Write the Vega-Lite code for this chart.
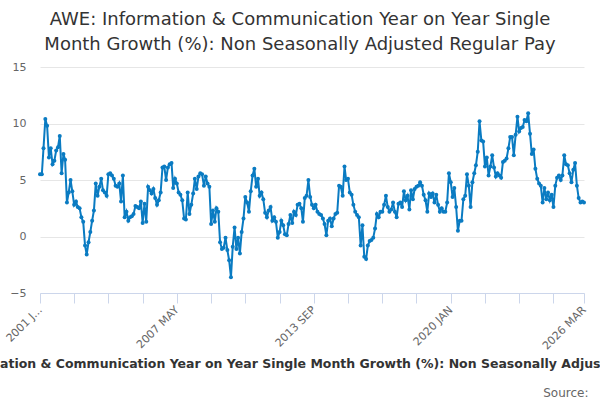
{
  "$schema": "https://vega.github.io/schema/vega-lite/v6.json",
  "autosize": "none",
  "width": 544,
  "height": 226,
  "padding": {"left": 40, "top": 67, "right": 16, "bottom": 107},
  "title": {
    "text": ["AWE: Information & Communication Year on Year Single", "Month Growth (%): Non Seasonally Adjusted Regular Pay"],
    "font": "DejaVu Sans",
    "fontSize": 18,
    "fontWeight": "normal",
    "color": "#333333",
    "anchor": "middle",
    "dx": -12,
    "offset": 7,
    "lineHeight": 25
  },
  "data": {
    "format": {"parse": {"month": "utc:'%Y-%m'"}},
    "values": [
      {"month": "2001-01", "value": 5.5}, {"month": "2001-02", "value": 5.5}, {"month": "2001-03", "value": 7.8}, {"month": "2001-04", "value": 10.4},
      {"month": "2001-05", "value": 9.8}, {"month": "2001-06", "value": 7.0}, {"month": "2001-07", "value": 7.8}, {"month": "2001-08", "value": 6.4},
      {"month": "2001-09", "value": 6.7}, {"month": "2001-10", "value": 7.6}, {"month": "2001-11", "value": 7.9}, {"month": "2001-12", "value": 8.9},
      {"month": "2002-01", "value": 5.6}, {"month": "2002-02", "value": 7.3}, {"month": "2002-03", "value": 6.8}, {"month": "2002-04", "value": 3.0},
      {"month": "2002-05", "value": 3.9}, {"month": "2002-06", "value": 5.0}, {"month": "2002-07", "value": 4.0}, {"month": "2002-08", "value": 2.8},
      {"month": "2002-09", "value": 3.1}, {"month": "2002-10", "value": 2.6}, {"month": "2002-11", "value": 2.5}, {"month": "2002-12", "value": 1.7},
      {"month": "2003-01", "value": 1.3}, {"month": "2003-02", "value": -0.8}, {"month": "2003-03", "value": -1.6}, {"month": "2003-04", "value": -0.5},
      {"month": "2003-05", "value": 0.4}, {"month": "2003-06", "value": 1.4}, {"month": "2003-07", "value": 2.3}, {"month": "2003-08", "value": 4.7},
      {"month": "2003-09", "value": 3.6}, {"month": "2003-10", "value": 4.4}, {"month": "2003-11", "value": 5.1}, {"month": "2003-12", "value": 4.1},
      {"month": "2004-01", "value": 3.9}, {"month": "2004-02", "value": 3.6}, {"month": "2004-03", "value": 5.5}, {"month": "2004-04", "value": 5.6},
      {"month": "2004-05", "value": 5.4}, {"month": "2004-06", "value": 5.1}, {"month": "2004-07", "value": 4.5}, {"month": "2004-08", "value": 4.4},
      {"month": "2004-09", "value": 4.7}, {"month": "2004-10", "value": 3.1}, {"month": "2004-11", "value": 5.4}, {"month": "2004-12", "value": 1.7},
      {"month": "2005-01", "value": 2.2}, {"month": "2005-02", "value": 1.4}, {"month": "2005-03", "value": 1.7}, {"month": "2005-04", "value": 1.8},
      {"month": "2005-05", "value": 2.0}, {"month": "2005-06", "value": 2.7}, {"month": "2005-07", "value": 2.6}, {"month": "2005-08", "value": 2.5},
      {"month": "2005-09", "value": 3.1}, {"month": "2005-10", "value": 1.2}, {"month": "2005-11", "value": 2.9}, {"month": "2005-12", "value": 1.3},
      {"month": "2006-01", "value": 4.4}, {"month": "2006-02", "value": 4.1}, {"month": "2006-03", "value": 3.8}, {"month": "2006-04", "value": 4.2},
      {"month": "2006-05", "value": 3.4}, {"month": "2006-06", "value": 2.8}, {"month": "2006-07", "value": 3.2}, {"month": "2006-08", "value": 3.9},
      {"month": "2006-09", "value": 6.1}, {"month": "2006-10", "value": 6.2}, {"month": "2006-11", "value": 5.0}, {"month": "2006-12", "value": 6.1},
      {"month": "2007-01", "value": 6.4}, {"month": "2007-02", "value": 6.5}, {"month": "2007-03", "value": 4.3}, {"month": "2007-04", "value": 5.1},
      {"month": "2007-05", "value": 4.7}, {"month": "2007-06", "value": 3.9}, {"month": "2007-07", "value": 3.7}, {"month": "2007-08", "value": 3.2},
      {"month": "2007-09", "value": 1.6}, {"month": "2007-10", "value": 1.5}, {"month": "2007-11", "value": 3.9}, {"month": "2007-12", "value": 2.0},
      {"month": "2008-01", "value": 2.8}, {"month": "2008-02", "value": 3.8}, {"month": "2008-03", "value": 5.1}, {"month": "2008-04", "value": 4.2},
      {"month": "2008-05", "value": 5.3}, {"month": "2008-06", "value": 5.6}, {"month": "2008-07", "value": 5.5}, {"month": "2008-08", "value": 4.5},
      {"month": "2008-09", "value": 5.3}, {"month": "2008-10", "value": 4.7}, {"month": "2008-11", "value": 4.4}, {"month": "2008-12", "value": 1.1},
      {"month": "2009-01", "value": 2.3}, {"month": "2009-02", "value": 1.3}, {"month": "2009-03", "value": 2.5}, {"month": "2009-04", "value": 2.2},
      {"month": "2009-05", "value": -0.5}, {"month": "2009-06", "value": -1.1}, {"month": "2009-07", "value": -1.0}, {"month": "2009-08", "value": -0.1},
      {"month": "2009-09", "value": -1.2}, {"month": "2009-10", "value": -2.1}, {"month": "2009-11", "value": -3.6}, {"month": "2009-12", "value": -0.9},
      {"month": "2010-01", "value": 0.8}, {"month": "2010-02", "value": -1.1}, {"month": "2010-03", "value": -0.1}, {"month": "2010-04", "value": -1.5},
      {"month": "2010-05", "value": 0.4}, {"month": "2010-06", "value": 1.6}, {"month": "2010-07", "value": 3.5}, {"month": "2010-08", "value": 3.0},
      {"month": "2010-09", "value": 2.2}, {"month": "2010-10", "value": 4.0}, {"month": "2010-11", "value": 5.4}, {"month": "2010-12", "value": 6.0},
      {"month": "2011-01", "value": 4.4}, {"month": "2011-02", "value": 5.1}, {"month": "2011-03", "value": 3.6}, {"month": "2011-04", "value": 3.9},
      {"month": "2011-05", "value": 3.3}, {"month": "2011-06", "value": 2.1}, {"month": "2011-07", "value": 1.7}, {"month": "2011-08", "value": 2.3},
      {"month": "2011-09", "value": 2.6}, {"month": "2011-10", "value": 1.4}, {"month": "2011-11", "value": 1.7}, {"month": "2011-12", "value": 1.3},
      {"month": "2012-01", "value": -0.1}, {"month": "2012-02", "value": 0.4}, {"month": "2012-03", "value": 1.4}, {"month": "2012-04", "value": 1.0},
      {"month": "2012-05", "value": 0.2}, {"month": "2012-06", "value": 0.1}, {"month": "2012-07", "value": 1.1}, {"month": "2012-08", "value": 1.9},
      {"month": "2012-09", "value": 1.2}, {"month": "2012-10", "value": 2.2}, {"month": "2012-11", "value": 1.9}, {"month": "2012-12", "value": 2.8},
      {"month": "2013-01", "value": 2.9}, {"month": "2013-02", "value": 2.5}, {"month": "2013-03", "value": 1.3}, {"month": "2013-04", "value": 3.4},
      {"month": "2013-05", "value": 3.6}, {"month": "2013-06", "value": 5.0}, {"month": "2013-07", "value": 3.5}, {"month": "2013-08", "value": 2.8},
      {"month": "2013-09", "value": 2.5}, {"month": "2013-10", "value": 2.8}, {"month": "2013-11", "value": 2.2}, {"month": "2013-12", "value": 2.0},
      {"month": "2014-01", "value": 1.9}, {"month": "2014-02", "value": 1.6}, {"month": "2014-03", "value": 1.1}, {"month": "2014-04", "value": 0.1},
      {"month": "2014-05", "value": 1.4}, {"month": "2014-06", "value": 1.6}, {"month": "2014-07", "value": 0.9}, {"month": "2014-08", "value": 1.6},
      {"month": "2014-09", "value": 2.0}, {"month": "2014-10", "value": 2.1}, {"month": "2014-11", "value": 4.5}, {"month": "2014-12", "value": 4.4},
      {"month": "2015-01", "value": 3.6}, {"month": "2015-02", "value": 6.2}, {"month": "2015-03", "value": 5.0}, {"month": "2015-04", "value": 5.1},
      {"month": "2015-05", "value": 3.9}, {"month": "2015-06", "value": 3.7}, {"month": "2015-07", "value": 2.8}, {"month": "2015-08", "value": 2.2},
      {"month": "2015-09", "value": 1.9}, {"month": "2015-10", "value": 1.7}, {"month": "2015-11", "value": -0.8}, {"month": "2015-12", "value": 1.0},
      {"month": "2016-01", "value": -1.8}, {"month": "2016-02", "value": -2.0}, {"month": "2016-03", "value": -0.8}, {"month": "2016-04", "value": -0.4},
      {"month": "2016-05", "value": -0.3}, {"month": "2016-06", "value": -0.1}, {"month": "2016-07", "value": 0.7}, {"month": "2016-08", "value": 2.0},
      {"month": "2016-09", "value": 1.7}, {"month": "2016-10", "value": 2.2}, {"month": "2016-11", "value": 2.2}, {"month": "2016-12", "value": 2.8},
      {"month": "2017-01", "value": 3.6}, {"month": "2017-02", "value": 2.6}, {"month": "2017-03", "value": 2.2}, {"month": "2017-04", "value": 2.4},
      {"month": "2017-05", "value": 3.0}, {"month": "2017-06", "value": 2.2}, {"month": "2017-07", "value": 1.7}, {"month": "2017-08", "value": 2.9},
      {"month": "2017-09", "value": 3.0}, {"month": "2017-10", "value": 2.6}, {"month": "2017-11", "value": 4.0}, {"month": "2017-12", "value": 3.2},
      {"month": "2018-01", "value": 3.6}, {"month": "2018-02", "value": 2.4}, {"month": "2018-03", "value": 4.1}, {"month": "2018-04", "value": 3.3},
      {"month": "2018-05", "value": 4.2}, {"month": "2018-06", "value": 4.4}, {"month": "2018-07", "value": 4.5}, {"month": "2018-08", "value": 4.8},
      {"month": "2018-09", "value": 4.5}, {"month": "2018-10", "value": 3.7}, {"month": "2018-11", "value": 3.2}, {"month": "2018-12", "value": 2.2},
      {"month": "2019-01", "value": 3.8}, {"month": "2019-02", "value": 3.5}, {"month": "2019-03", "value": 3.8}, {"month": "2019-04", "value": 3.0},
      {"month": "2019-05", "value": 3.7}, {"month": "2019-06", "value": 2.8}, {"month": "2019-07", "value": 2.2}, {"month": "2019-08", "value": 2.5},
      {"month": "2019-09", "value": 2.2}, {"month": "2019-10", "value": 2.2}, {"month": "2019-11", "value": 3.0}, {"month": "2019-12", "value": 5.6},
      {"month": "2020-01", "value": 4.8}, {"month": "2020-02", "value": 3.5}, {"month": "2020-03", "value": 4.3}, {"month": "2020-04", "value": 2.6},
      {"month": "2020-05", "value": 0.5}, {"month": "2020-06", "value": 1.4}, {"month": "2020-07", "value": 1.4}, {"month": "2020-08", "value": 3.3},
      {"month": "2020-09", "value": 3.6}, {"month": "2020-10", "value": 5.5}, {"month": "2020-11", "value": 4.5}, {"month": "2020-12", "value": 2.6},
      {"month": "2021-01", "value": 4.8}, {"month": "2021-02", "value": 5.6}, {"month": "2021-03", "value": 6.3}, {"month": "2021-04", "value": 7.5},
      {"month": "2021-05", "value": 10.2}, {"month": "2021-06", "value": 8.5}, {"month": "2021-07", "value": 8.4}, {"month": "2021-08", "value": 6.2},
      {"month": "2021-09", "value": 7.0}, {"month": "2021-10", "value": 5.4}, {"month": "2021-11", "value": 6.2}, {"month": "2021-12", "value": 7.2},
      {"month": "2022-01", "value": 6.1}, {"month": "2022-02", "value": 5.3}, {"month": "2022-03", "value": 5.6}, {"month": "2022-04", "value": 5.4},
      {"month": "2022-05", "value": 5.2}, {"month": "2022-06", "value": 6.6}, {"month": "2022-07", "value": 6.7}, {"month": "2022-08", "value": 6.9},
      {"month": "2022-09", "value": 7.8}, {"month": "2022-10", "value": 8.8}, {"month": "2022-11", "value": 8.8}, {"month": "2022-12", "value": 7.2},
      {"month": "2023-01", "value": 9.0}, {"month": "2023-02", "value": 10.6}, {"month": "2023-03", "value": 9.3}, {"month": "2023-04", "value": 9.6},
      {"month": "2023-05", "value": 9.7}, {"month": "2023-06", "value": 10.3}, {"month": "2023-07", "value": 10.2}, {"month": "2023-08", "value": 10.9},
      {"month": "2023-09", "value": 9.1}, {"month": "2023-10", "value": 7.3}, {"month": "2023-11", "value": 7.7}, {"month": "2023-12", "value": 6.0},
      {"month": "2024-01", "value": 5.1}, {"month": "2024-02", "value": 4.7}, {"month": "2024-03", "value": 4.5}, {"month": "2024-04", "value": 3.0},
      {"month": "2024-05", "value": 4.3}, {"month": "2024-06", "value": 3.3}, {"month": "2024-07", "value": 3.9}, {"month": "2024-08", "value": 3.2},
      {"month": "2024-09", "value": 3.7}, {"month": "2024-10", "value": 2.6}, {"month": "2024-11", "value": 4.5}, {"month": "2024-12", "value": 5.2},
      {"month": "2025-01", "value": 5.4}, {"month": "2025-02", "value": 5.0}, {"month": "2025-03", "value": 5.4}, {"month": "2025-04", "value": 7.2},
      {"month": "2025-05", "value": 6.4}, {"month": "2025-06", "value": 6.3}, {"month": "2025-07", "value": 5.6}, {"month": "2025-08", "value": 4.8},
      {"month": "2025-09", "value": 5.9}, {"month": "2025-10", "value": 6.5}, {"month": "2025-11", "value": 4.5}, {"month": "2025-12", "value": 3.4},
      {"month": "2026-01", "value": 3.0}, {"month": "2026-02", "value": 3.1}, {"month": "2026-03", "value": 3.0}
    ]
  },
  "mark": {
    "type": "line",
    "color": "#0a7bc2",
    "strokeWidth": 2,
    "point": {"filled": true, "size": 16, "color": "#0a7bc2"}
  },
  "encoding": {
    "x": {
      "field": "month",
      "type": "temporal",
      "scale": {
        "type": "utc",
        "nice": false,
        "domain": [{"year": 2001, "month": 1, "utc": true}, {"year": 2026, "month": 3, "utc": true}]
      },
      "axis": {
        "title": "AWE: Information & Communication Year on Year Single Month Growth (%): Non Seasonally Adjusted Regular Pay",
        "titleFont": "DejaVu Sans",
        "titleFontSize": 12.5,
        "titleFontWeight": "bold",
        "titleColor": "#333333",
        "titleBaseline": "middle",
        "titleY": 70,
        "values": [
          {"year": 2001, "month": 1, "utc": true}, {"year": 2002, "month": 8, "utc": true}, {"year": 2004, "month": 3, "utc": true},
          {"year": 2005, "month": 10, "utc": true}, {"year": 2007, "month": 5, "utc": true}, {"year": 2008, "month": 12, "utc": true},
          {"year": 2010, "month": 7, "utc": true}, {"year": 2012, "month": 2, "utc": true}, {"year": 2013, "month": 9, "utc": true},
          {"year": 2015, "month": 4, "utc": true}, {"year": 2016, "month": 11, "utc": true}, {"year": 2018, "month": 6, "utc": true},
          {"year": 2020, "month": 1, "utc": true}, {"year": 2021, "month": 8, "utc": true}, {"year": 2023, "month": 3, "utc": true},
          {"year": 2024, "month": 10, "utc": true}, {"year": 2026, "month": 3, "utc": true}
        ],
        "labelExpr": "utcFormat(datum.value, '%Y-%m') == '2001-01' ? '2001 J...' : (indexof(['2007-05', '2013-09', '2020-01', '2026-03'], utcFormat(datum.value, '%Y-%m')) >= 0 ? upper(utcFormat(datum.value, '%Y %b')) : '')",
        "labelAngle": -45,
        "labelAlign": "right",
        "labelBaseline": "middle",
        "labelFont": "DejaVu Sans",
        "labelFontSize": 11,
        "labelColor": "#666666",
        "labelOverlap": false,
        "labelBound": false,
        "labelFlush": false,
        "labelPadding": 5,
        "grid": false,
        "domainColor": "#ccd6eb",
        "tickColor": "#ccd6eb",
        "tickSize": 10
      }
    },
    "y": {
      "field": "value",
      "type": "quantitative",
      "scale": {"domain": [-5, 15], "nice": false, "zero": false},
      "axis": {
        "values": [-5, 0, 5, 10, 15],
        "title": "Source:",
        "titleAngle": 0,
        "titleAlign": "right",
        "titleBaseline": "alphabetic",
        "titleX": 548,
        "titleY": 329,
        "titleFont": "DejaVu Sans",
        "titleFontSize": 12,
        "titleFontWeight": "normal",
        "titleColor": "#666666",
        "labelFont": "DejaVu Sans",
        "labelFontSize": 11,
        "labelColor": "#666666",
        "labelPadding": 14,
        "domain": false,
        "ticks": false,
        "gridColor": "#e6e6e6"
      }
    }
  },
  "config": {
    "view": {"stroke": null},
    "background": "#ffffff"
  }
}
